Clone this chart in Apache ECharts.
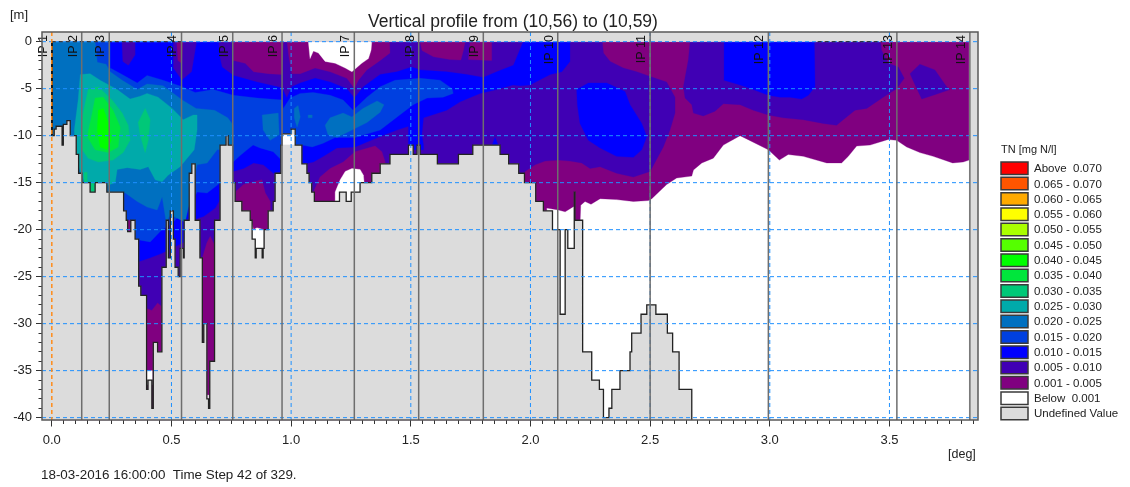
<!DOCTYPE html>
<html><head><meta charset="utf-8">
<style>html,body{margin:0;padding:0;background:#fff}#c{width:1130px;height:487px}</style>
<script src="https://cdn.jsdelivr.net/npm/echarts@6/dist/echarts.min.js"></script>
</head><body><div id="c"></div>
<script>
const xMin=-0.041,xMax=3.87,yMin=-40.25,yMax=1.03;
const xMajor=[0,0.5,1,1.5,2,2.5,3,3.5];
const xMinor=Array.from({length:78},(_,i)=>+(i*0.05).toFixed(2));
const yMajor=[0,-5,-10,-15,-20,-25,-30,-35,-40];
const yMinor=Array.from({length:41},(_,i)=>-i);
const ipNames=['IP 1','IP 2','IP 3','IP 4','IP 5','IP 6','IP 7','IP 8','IP 9','IP 10','IP 11','IP 12','IP 13','IP 14'];
const ipDeg=[0,0.125,0.240,0.542,0.756,0.962,1.264,1.533,1.803,2.114,2.500,2.994,3.531,3.836];

const legendLabels=['Above  0.070','0.065 - 0.070','0.060 - 0.065','0.055 - 0.060','0.050 - 0.055','0.045 - 0.050','0.040 - 0.045','0.035 - 0.040','0.030 - 0.035','0.025 - 0.030','0.020 - 0.025','0.015 - 0.020','0.010 - 0.015','0.005 - 0.010','0.001 - 0.005','Below  0.001','Undefined Value'];
const legendColors=['#ff0000','#ff5500','#ffaa00','#ffff00','#aaff00','#55ff00','#00ff00','#00e63c','#00c878','#00aaaa','#0070c0','#0040e0','#0000ff','#4000b4','#800080','#ffffff','#dcdcdc'];
const C001='#800080',C005='#4000b4',C010='#0000ff',C015='#0040e0',C020='#0070c0',C025='#00aaaa',C030='#00c878',C035='#00e63c',C040='#00ff00',CNONE='#ffffff',CUND='#dcdcdc';

// bed level along the profile [deg, m]
const terrain=[[0.002,0],[0.002,-10],[0.01,-10],[0.01,-9.3],[0.018,-9.3],[0.018,-9],[0.043,-9],[0.043,-11],[0.048,-11],[0.048,-8.8],[0.063,-8.8],[0.063,-8.4],[0.077,-8.4],[0.077,-10],[0.102,-10],[0.102,-12],[0.112,-12],[0.112,-14],[0.126,-14],[0.126,-15],[0.16,-15],[0.16,-16],[0.181,-16],[0.181,-15],[0.23,-15],[0.23,-16],[0.3,-16],[0.3,-18],[0.311,-18],[0.311,-19],[0.317,-19],[0.317,-20.2],[0.33,-20.2],[0.33,-19],[0.348,-19],[0.348,-21],[0.363,-21],[0.363,-26],[0.372,-26],[0.372,-27],[0.396,-27],[0.396,-37],[0.402,-37],[0.402,-36],[0.418,-36],[0.418,-39],[0.424,-39],[0.424,-32],[0.442,-32],[0.442,-33],[0.46,-33],[0.46,-24],[0.478,-24],[0.478,-19],[0.487,-19],[0.487,-23],[0.495,-23],[0.495,-18],[0.508,-18],[0.508,-21],[0.515,-21],[0.515,-24],[0.528,-24],[0.528,-25],[0.536,-25],[0.536,-22],[0.55,-22],[0.55,-23],[0.553,-23],[0.553,-19],[0.574,-19],[0.574,-14],[0.585,-14],[0.585,-13],[0.599,-13],[0.599,-19],[0.619,-19],[0.619,-23],[0.629,-23],[0.629,-32],[0.635,-32],[0.635,-30],[0.648,-30],[0.648,-38],[0.655,-38],[0.655,-39],[0.66,-39],[0.66,-34],[0.68,-34],[0.68,-19],[0.703,-19],[0.703,-11],[0.728,-11],[0.728,-10],[0.737,-10],[0.737,-11],[0.756,-11],[0.756,-15],[0.766,-15],[0.766,-17],[0.794,-17],[0.794,-18],[0.829,-18],[0.829,-19],[0.837,-19],[0.837,-21],[0.85,-21],[0.85,-23],[0.854,-23],[0.854,-22],[0.879,-22],[0.879,-23],[0.883,-23],[0.883,-22],[0.887,-22],[0.887,-20],[0.904,-20],[0.904,-18],[0.925,-18],[0.925,-17],[0.933,-17],[0.933,-14],[0.957,-14],[0.957,-11],[0.962,-11],[0.962,-9.8],[1.0,-9.8],[1.0,-9.3],[1.017,-9.3],[1.017,-11],[1.045,-11],[1.045,-13],[1.066,-13],[1.066,-14],[1.075,-14],[1.075,-15],[1.086,-15],[1.086,-16],[1.097,-16],[1.097,-17],[1.202,-17],[1.202,-16],[1.23,-16],[1.23,-17],[1.251,-17],[1.251,-16],[1.288,-16],[1.288,-15],[1.337,-15],[1.337,-14],[1.372,-14],[1.372,-13],[1.413,-13],[1.413,-12],[1.49,-12],[1.49,-11],[1.51,-11],[1.51,-12],[1.526,-12],[1.526,-11],[1.539,-11],[1.539,-12],[1.611,-12],[1.611,-13],[1.699,-13],[1.699,-12],[1.759,-12],[1.759,-11],[1.873,-11],[1.873,-12],[1.909,-12],[1.909,-13],[1.951,-13],[1.951,-14],[1.975,-14],[1.975,-15],[2.022,-15],[2.022,-17],[2.054,-17],[2.054,-18],[2.092,-18],[2.092,-20],[2.124,-20],[2.124,-29],[2.145,-29],[2.145,-20],[2.156,-20],[2.156,-22],[2.183,-22],[2.183,-16],[2.186,-16],[2.186,-19],[2.218,-19],[2.218,-33],[2.256,-33],[2.256,-36],[2.288,-36],[2.288,-37],[2.305,-37],[2.305,-40],[2.328,-40],[2.328,-39],[2.34,-39],[2.34,-37],[2.374,-37],[2.374,-35],[2.416,-35],[2.416,-33],[2.423,-33],[2.423,-31],[2.462,-31],[2.462,-29],[2.486,-29],[2.486,-28],[2.524,-28],[2.524,-29],[2.572,-29],[2.572,-31],[2.594,-31],[2.594,-33],[2.621,-33],[2.621,-37],[2.674,-37],[2.674,-40.25]];

// contour polygons [deg, m], lowest level first
const band001=[[0,0],[3.833,0],[3.833,-12.6],[3.808,-12.8],[3.764,-12.9],[3.683,-12.2],[3.627,-11.8],[3.572,-11.2],[3.53,-10.5],[3.495,-10.4],[3.419,-11],[3.363,-11.1],[3.328,-12.2],[3.3,-12.9],[3.238,-12.9],[3.14,-12.2],[3.077,-12],[3.04,-12.6],[2.994,-11.5],[2.876,-10],[2.806,-11],[2.764,-12.4],[2.716,-12.9],[2.681,-13.65],[2.674,-14.3],[2.611,-14.5],[2.569,-15.2],[2.507,-16.7],[2.493,-16.9],[2.43,-17],[2.36,-16.8],[2.291,-16.7],[2.253,-17.3],[2.228,-17],[2.21,-17.4],[2.207,-19.5],[2.186,-19.5],[2.186,-17.5],[2.179,-17.55],[2.145,-18.1],[2.117,-17.9],[2.068,-17.7],[2.068,-40.25],[0,-40.25]];
const band005main=[[0,0],[2.3,0],[2.305,-1.2],[2.333,-2.1],[2.388,-2.8],[2.444,-3.2],[2.5,-3.7],[2.569,-4.3],[2.604,-5.9],[2.604,-7.6],[2.583,-9.4],[2.555,-11.2],[2.5,-13.8],[2.43,-14.4],[2.36,-14],[2.291,-13.3],[2.249,-13.5],[2.214,-12.9],[2.165,-12.7],[2.117,-12.6],[2.061,-12.7],[2.019,-13.1],[1.977,-13.8],[1.96,-15],[1.95,-40],[0,-40]];
const band005right=[[2.667,0],[2.66,-1.9],[2.639,-4.8],[2.646,-6],[2.674,-6.7],[2.681,-7.6],[2.722,-7.9],[2.771,-7.4],[2.806,-6.6],[2.876,-6.7],[2.931,-7.3],[2.994,-7.8],[3.056,-8.1],[3.14,-8.3],[3.223,-8.7],[3.279,-8.9],[3.307,-8.3],[3.356,-7.3],[3.405,-7.1],[3.474,-5.9],[3.53,-5],[3.562,-3.9],[3.537,-2.7],[3.495,-2.3],[3.467,-0.9],[3.463,0]];
const band005blob=[[3.586,-3.4],[3.627,-2.4],[3.69,-3],[3.739,-4.8],[3.753,-5.1],[3.683,-5.7],[3.635,-6.1],[3.607,-4.6]];
const low001a=[[0.759,0],[0.759,-2],[0.808,-2.3],[0.843,-3.2],[0.905,-3.4],[0.961,-3.5],[0.968,0]];
const low001b=[[0.983,0],[0.99,-1.5],[1.003,-3.4],[1.038,-3.4],[1.1,-2.8],[1.163,-3.2],[1.233,-3.9],[1.254,-4.6],[1.264,-5],[1.281,-4.1],[1.316,-3],[1.372,-2],[1.413,-1.2],[1.411,0]];
const low001c=[[1.539,0],[1.547,-0.95],[1.595,-1.6],[1.664,-1.9],[1.709,-1.95],[1.72,-0.9],[1.727,0]];
const low001d=[[1.748,0],[1.741,-1.9],[1.838,-2],[1.838,0]];
const low001e=[[0.522,0],[0.527,-2],[0.543,-2.3],[0.548,0]];
const low001f=[[1.093,-16],[1.121,-14.4],[1.163,-13.5],[1.218,-12.8],[1.267,-11.7],[1.351,-11.1],[1.379,-11.7],[1.393,-12.8],[1.393,-16],[1.093,-18]];
const low001g=[[0.77,-15.9],[0.801,-15.2],[0.843,-14.9],[0.878,-14.7],[0.892,-16.1],[0.913,-17],[0.913,-23],[0.77,-23]];
const low001h=[[0.396,-28.4],[0.418,-28.6],[0.442,-27.8],[0.46,-28.2],[0.46,-40],[0.396,-40]];
const low001i=[[0.629,-23],[0.648,-21.4],[0.662,-20.7],[0.683,-21.8],[0.683,-40],[0.629,-40]];
const band010main=[[0,0],[0.507,0],[0.507,-2.8],[0.543,-4.1],[0.585,-3.2],[0.606,0],[0.696,0],[0.703,-1.8],[0.711,-2.7],[0.759,-3.6],[0.857,-4.3],[0.961,-4.9],[0.982,-6],[1.003,-4.8],[1.038,-4.4],[1.1,-3.9],[1.163,-4.3],[1.233,-5],[1.264,-6],[1.302,-4.8],[1.372,-3.5],[1.442,-3.2],[1.504,-2.7],[1.539,-3],[1.65,-3.2],[1.734,-3.5],[1.803,-3.8],[1.859,-3.2],[1.929,-2.5],[1.964,-0.35],[1.97,0],[2.165,0],[2.165,-2.1],[2.131,-3.2],[2.082,-3.5],[1.998,-4.6],[1.957,-4.7],[1.927,-4.6],[1.859,-5.1],[1.789,-5.5],[1.706,-6.4],[1.65,-7.3],[1.553,-8.1],[1.546,-9.9],[1.553,-11],[1.553,-11.5],[1.49,-11.5],[1.49,-9],[1.442,-9.4],[1.372,-10.1],[1.267,-11.2],[1.191,-11.3],[1.135,-12.2],[1.093,-12.8],[1.072,-12.9],[1.038,-13.6],[0.926,-14],[0.884,-13.1],[0.843,-12.9],[0.801,-13.5],[0.756,-13.8],[0.737,-15.8],[0.703,-16.8],[0.683,-17.7],[0.634,-18.6],[0.606,-18.8],[0.578,-21],[0.46,-22.5],[0.411,-23],[0.364,-23.4],[0.327,-24.5],[0,-24.5]];
const band010mid=[[2.193,-5.1],[2.242,-4.4],[2.319,-4.4],[2.395,-5.3],[2.416,-6.7],[2.465,-8.7],[2.486,-10.1],[2.465,-11.5],[2.43,-12.3],[2.36,-12.2],[2.291,-11.3],[2.242,-10.5],[2.207,-8.7],[2.196,-6.7]];
const band010right=[[2.809,0],[2.809,-4.1],[2.876,-4.6],[2.931,-5.1],[2.994,-5.7],[3.043,-5.9],[3.084,-5.9],[3.133,-6.1],[3.161,-5.7],[3.189,-4.8],[3.186,0]];
const band010tip=[[1.84,-11],[1.852,-10.2],[1.865,-11]];
const patch005=[[0.293,0],[0.297,-2.1],[0.32,-2.5],[0.348,-1.4],[0.348,0]];
const band015=[[0,0],[0.244,0],[0.244,-2.8],[0.294,-3.5],[0.357,-4.4],[0.398,-3.6],[0.465,-4.1],[0.545,-4.8],[0.599,-5.4],[0.674,-5.1],[0.758,-5.7],[0.858,-6],[0.962,-6.2],[0.967,-7.1],[0.996,-6],[1.038,-5.5],[1.092,-5.4],[1.163,-5.7],[1.217,-6.2],[1.259,-7.3],[1.317,-5.9],[1.372,-4.8],[1.434,-4.1],[1.539,-3.9],[1.622,-4.1],[1.673,-5],[1.677,-5.5],[1.635,-5.9],[1.568,-6],[1.51,-6.7],[1.443,-8],[1.372,-9.4],[1.267,-10.2],[1.184,-10.2],[1.134,-10.8],[1.088,-11.2],[1.046,-11],[1.017,-11.5],[0.975,-13],[0.925,-11.7],[0.87,-11.3],[0.841,-11],[0.816,-11.5],[0.787,-12.1],[0.758,-12.8],[0.724,-13.6],[0.695,-15.2],[0.649,-16.1],[0.607,-16],[0.578,-17.4],[0.495,-19.5],[0.46,-20],[0.411,-21.3],[0.365,-21.1],[0.327,-22.2],[0,-22.2]];
const band020main=[[0,0],[0.181,0],[0.19,-2.2],[0.227,-2.4],[0.244,-3.2],[0.294,-4.1],[0.357,-5.1],[0.398,-4.5],[0.465,-4.7],[0.545,-6.2],[0.603,-7.1],[0.68,-7.3],[0.735,-8.1],[0.758,-8.9],[0.758,-11.3],[0.691,-11.5],[0.649,-12.9],[0.607,-13.1],[0.578,-16.8],[0.557,-19.2],[0.495,-18.4],[0.478,-19.2],[0.461,-16.5],[0.44,-17.9],[0.398,-17.6],[0.357,-17],[0.307,-16.1],[0.244,-16],[0,-16]];
const band020lobe=[[0.879,-7.8],[0.946,-7.6],[0.95,-9.9],[0.912,-10.5],[0.883,-9.4]];
const band020oval=[[1.142,-8.9],[1.163,-8.1],[1.217,-7.6],[1.254,-8],[1.3,-7.1],[1.359,-6.3],[1.388,-6.7],[1.372,-7.5],[1.317,-8.6],[1.254,-9.4],[1.192,-10.2],[1.154,-9.9]];
const band020small=[[1.013,-7.1],[1.029,-6.8],[1.038,-8],[1.025,-9.1],[1.013,-8.1]];
const band020dot=[[1.071,-7.8],[1.088,-7.8],[1.088,-8.1],[1.071,-8.1]];
const band025=[[0.094,-9.4],[0.098,-8.6],[0.11,-6.2],[0.119,-3.5],[0.16,-3.4],[0.202,-4.1],[0.273,-5.1],[0.327,-6.1],[0.369,-5.8],[0.398,-5.5],[0.444,-5.9],[0.503,-7.1],[0.549,-8.3],[0.591,-7.8],[0.607,-7.8],[0.607,-9.4],[0.595,-11.5],[0.536,-13.3],[0.486,-14.2],[0.461,-14.9],[0.432,-14.7],[0.403,-13.3],[0.369,-13.6],[0.315,-13.4],[0.273,-13.6],[0.265,-15],[0.169,-15.8],[0.14,-15.2],[0.102,-12.6]];
const band030=[[0.152,-5.1],[0.194,-4.8],[0.252,-6.2],[0.294,-7.6],[0.319,-8.9],[0.327,-10.5],[0.298,-11.8],[0.256,-12.6],[0.194,-12.8],[0.152,-12.4],[0.127,-11.5],[0.119,-10.1],[0.131,-7.6]];
const band030lobe=[[0.39,-7.1],[0.411,-8.3],[0.403,-10.5],[0.39,-11.8],[0.369,-9.9],[0.361,-8.6]];
const band030a=[[0.135,-13.9],[0.148,-13.9],[0.148,-15],[0.135,-15]];
const band030b=[[0.16,-15],[0.181,-15],[0.181,-16],[0.16,-16]];
const band035=[[0.181,-6],[0.215,-5.9],[0.256,-7.3],[0.286,-9.1],[0.277,-11.2],[0.236,-11.8],[0.181,-11.5],[0.148,-10.1],[0.169,-7.6]];
const band040=[[0.194,-7.3],[0.215,-7.1],[0.236,-8.6],[0.248,-10.5],[0.231,-11.5],[0.202,-11.2],[0.19,-9.4]];
const low001j=[[0.317,-19],[0.33,-19],[0.33,-20.2],[0.317,-20.2]];
const noneTop=[[1.072,0],[1.079,-1.8],[1.093,-1],[1.114,-1.2],[1.142,-2.1],[1.184,-2.3],[1.226,-2.8],[1.254,-3.2],[1.295,-2.3],[1.323,-1.8],[1.334,-0.9],[1.337,0]];
const noneBed=[[1.184,-17],[1.184,-16],[1.205,-14.7],[1.226,-13.8],[1.254,-13.5],[1.288,-13.6],[1.302,-14.2],[1.305,-15],[1.305,-17.5]];
const noneTrough1=[[0.397,-35],[0.421,-35],[0.421,-36.5],[0.397,-36.5]];
const noneTrough2=[[0.648,-37.6],[0.656,-37.6],[0.656,-38.5],[0.648,-38.5]];
const noneTrough3=[[0.829,-18.9],[0.843,-20],[0.857,-19.8],[0.887,-20],[0.887,-23],[0.84,-23]];
const nonePatch=[[0.963,-9.9],[1.017,-9.9],[1.017,-10.95],[0.963,-10.95]];
const undefTop=[[xMin,yMax],[xMax,yMax],[xMax,0],[xMin,0]];
const undefRight=[[3.833,0],[xMax,0],[xMax,yMin],[3.833,yMin]];

const filled=[
 [band001,C001],[band005main,C005],[band005right,C005],[band005blob,C005],
 [low001a,C001],[low001b,C001],[low001c,C001],[low001d,C001],[low001e,C001],[low001f,C001],[low001g,C001],[low001h,C001],[low001i,C001],
 [band010main,C010],[band010mid,C010],[band010right,C010],[band010tip,C010],[patch005,C005],
 [band015,C015],[band020main,C020],[band020lobe,C020],[band020oval,C020],[band020small,C020],[band020dot,C020],
 [band025,C025],[band030,C030],[band030lobe,C030],[band030a,C030],[band030b,C030],[band035,C035],[band040,C040],[low001j,C001],
 [noneTop,CNONE],[noneBed,CNONE],[noneTrough1,CNONE],[noneTrough2,CNONE],[noneTrough3,CNONE],
 [[[xMin,yMin],[xMin,0]].concat(terrain),CUND],[nonePatch,CNONE],[undefTop,CUND],[undefRight,CUND]
];

const items=[];
filled.forEach((f,i)=>items.push({kind:'fill',i}));
items.push({kind:'bed'});
yMajor.forEach(v=>items.push({kind:'line',a:[xMin,v],b:[xMax,v],color:'#1e90ff',dash:[4,3],w:1}));
[[0,0.55],[3.2,3.47]].forEach(s=>items.push({kind:'line',a:[s[0],0],b:[s[1],0],color:'#222',dash:[4,3],w:1}));
xMajor.forEach(v=>{ if(v>0) items.push({kind:'line',a:[v,yMax],b:[v,yMin],color:'#1e90ff',dash:[4,3],w:1}); });
ipDeg.forEach((d,i)=>{
  if(i===0){ items.push({kind:'line',a:[d,0],b:[d,-10],color:'#111',w:1.5}); }
  else items.push({kind:'line',a:[d,yMax],b:[d,yMin],color:'#6e6e6e',w:1.5});
});
items.push({kind:'line',a:[0,yMax],b:[0,yMin],color:'#ff8c1a',dash:[4,3],w:1.5});
ipDeg.forEach((d,i)=>items.push({kind:'ip',d,name:ipNames[i]}));
xMinor.forEach(v=>items.push({kind:'xtick',v,len:4}));
xMajor.forEach(v=>items.push({kind:'xtick',v,len:6.5}));
yMinor.forEach(v=>items.push({kind:'ytick',v,len:3.5}));
yMajor.forEach(v=>items.push({kind:'ytick',v,len:6}));
items.push({kind:'frame'});

function renderItem(params,api){
  const it=items[params.dataIndex];
  const c=p=>api.coord(p);
  const snap=v=>Math.floor(v)+0.5;
  if(it.kind==='fill'){
    const f=filled[it.i];
    return {type:'polygon',shape:{points:f[0].map(c)},style:{fill:f[1],stroke:f[1],lineWidth:0.3}};
  }
  if(it.kind==='bed'){
    return {type:'polyline',shape:{points:terrain.map(c)},style:{fill:null,stroke:'#222',lineWidth:1.3}};
  }
  if(it.kind==='line'){
    const a=c(it.a),b=c(it.b);
    return {type:'line',shape:{x1:a[0],y1:a[1],x2:b[0],y2:b[1]},style:{stroke:it.color,lineWidth:it.w,lineDash:it.dash||null}};
  }
  if(it.kind==='ip'){
    const p=c([it.d,yMax]);
    return {type:'text',x:p[0]-2,y:p[1]+3,rotation:Math.PI/2,style:{text:it.name,fill:'#111',font:'12.5px "Liberation Sans"',align:'right',verticalAlign:'bottom'}};
  }
  if(it.kind==='xtick'){
    const p=c([it.v,yMin]);
    return {type:'line',shape:{x1:snap(p[0]),y1:p[1],x2:snap(p[0]),y2:p[1]+it.len},style:{stroke:'#333',lineWidth:1}};
  }
  if(it.kind==='ytick'){
    const p=c([xMin,it.v]);
    return {type:'line',shape:{x1:p[0],y1:snap(p[1]),x2:p[0]-it.len,y2:snap(p[1])},style:{stroke:'#333',lineWidth:1}};
  }
  const a=c([xMin,yMax]),b=c([xMax,yMin]);
  return {type:'rect',shape:{x:a[0],y:a[1],width:b[0]-a[0],height:b[1]-a[1]},style:{fill:null,stroke:'#5a5a5a',lineWidth:1.5}};
}

const FONT='"Liberation Sans"';
const graphics=[
 {type:'text',left:10,top:9,style:{text:'[m]',fill:'#222',font:'13px '+FONT}},
 {type:'text',left:948,top:448,style:{text:'[deg]',fill:'#222',font:'12.5px '+FONT}},
 {type:'text',left:41,top:469,style:{text:'18-03-2016 16:00:00  Time Step 42 of 329.',fill:'#222',font:'13.4px '+FONT}},
 {type:'text',left:1001,top:144,style:{text:'TN [mg N/l]',fill:'#222',font:'11px '+FONT}}
];
legendLabels.forEach((t,i)=>{
  const y=162+i*15.33;
  graphics.push({type:'rect',shape:{x:1001,y:y,width:27,height:12.5},style:{fill:legendColors[i],stroke:'#3a3a3a',lineWidth:1.5}});
  graphics.push({type:'text',left:1034,top:y+1,style:{text:t,fill:'#222',font:'11.5px '+FONT}});
});

const axisCommon={type:'value',splitLine:{show:false},axisLine:{show:false},axisTick:{show:false}};
const chart=echarts.init(document.getElementById('c'),null,{renderer:'canvas'});
chart.setOption({
 animation:false,backgroundColor:'#fff',
 title:{text:'Vertical profile from (10,56) to (10,59)',left:508,top:8,textAlign:'center',textStyle:{fontFamily:FONT,fontSize:17.5,fontWeight:'normal',color:'#222'}},
 grid:{left:42,top:32,right:152,bottom:67},
 xAxis:{...axisCommon,min:xMin,max:xMax,position:'bottom',
   axisLabel:{show:true,customValues:xMajor,margin:14,formatter:v=>v.toFixed(1),fontFamily:FONT,fontSize:13,color:'#222'}},
 yAxis:{...axisCommon,min:yMin,max:yMax,position:'left',
   axisLabel:{show:true,customValues:yMajor,margin:10,fontFamily:FONT,fontSize:13,color:'#222'}},
 graphic:graphics,
 series:[{type:'custom',coordinateSystem:'cartesian2d',clip:false,silent:true,
   encode:{x:0,y:1},renderItem,data:items.map(()=>[0,0])}]
});
</script></body></html>
